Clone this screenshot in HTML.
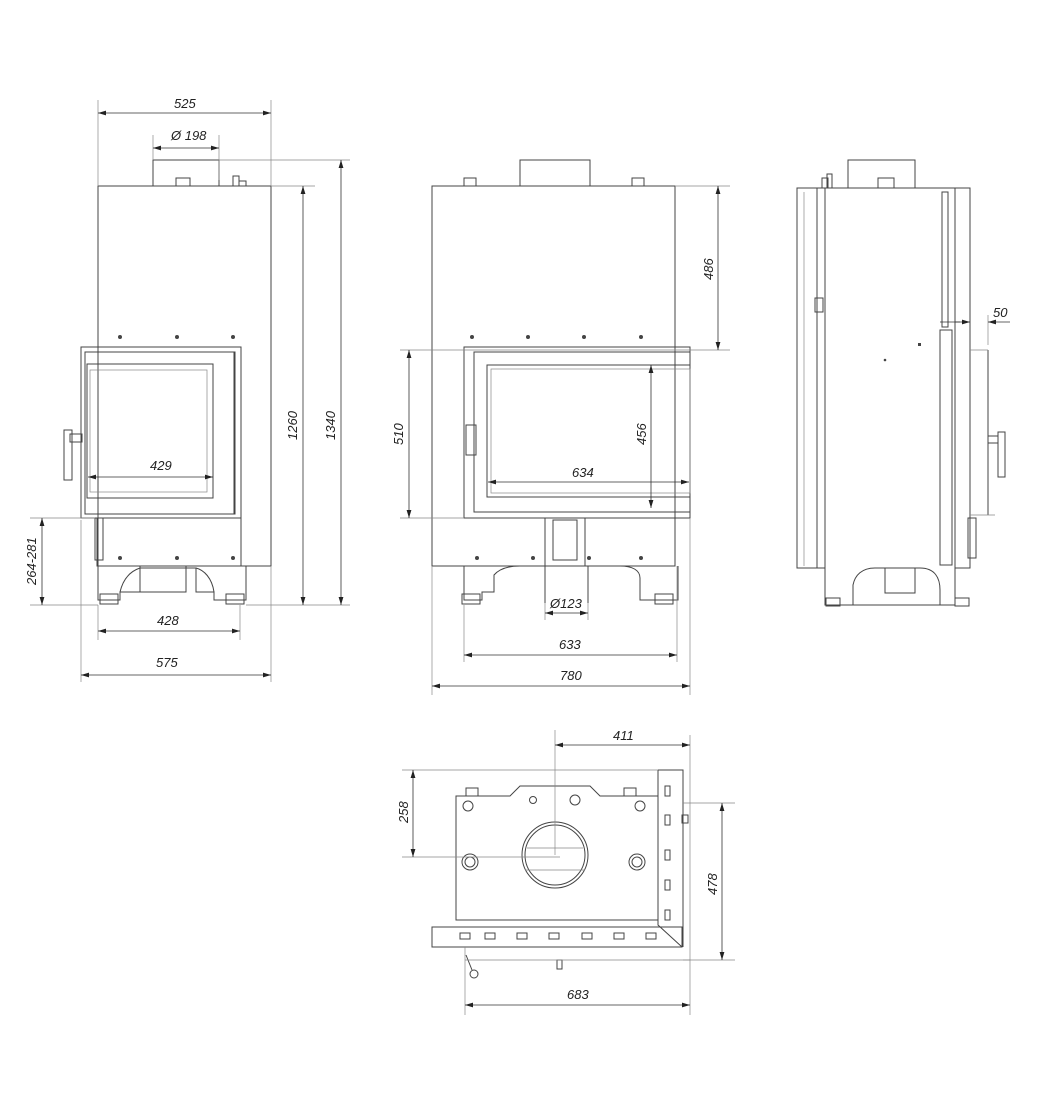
<!DOCTYPE html>
<html><head><meta charset="utf-8"><style>
html,body{margin:0;padding:0;background:#fff;}
svg{display:block;}
text{font-family:"Liberation Sans",sans-serif;font-size:13px;font-style:italic;fill:#222;}
.l{stroke:#444;stroke-width:1;fill:none;}
.t{stroke:#888;stroke-width:0.7;fill:none;}
.d{stroke:#333;stroke-width:0.8;fill:none;}
</style></head><body>
<svg width="1040" height="1120" viewBox="0 0 1040 1120" xmlns="http://www.w3.org/2000/svg">
<defs>
<marker id="a" viewBox="0 0 10 6" refX="10" refY="3" markerWidth="10" markerHeight="6" orient="auto-start-reverse"><path d="M0,0 L10,3 L0,6 z" fill="#222"/></marker>
</defs>

<!-- ============ FRONT LEFT VIEW ============ -->
<g>
<rect class="l" x="98" y="186" width="173" height="380"/>
<rect class="l" x="153" y="160" width="66" height="26"/>
<rect class="l" x="176" y="178" width="14" height="8"/>
<rect class="l" x="233" y="176" width="6" height="10"/><rect class="l" x="239" y="181" width="7" height="5"/>
<rect class="l" x="81" y="347" width="160" height="171" fill="#fff"/>
<rect class="l" x="85" y="352" width="150" height="162"/>
<rect class="l" x="87" y="364" width="126" height="134"/>
<rect class="t" x="90" y="370" width="117" height="122"/>
<line class="l" x1="234" y1="352" x2="234" y2="514"/>
<rect class="l" x="70" y="434" width="12" height="8"/>
<rect class="l" x="64" y="430" width="8" height="50"/>
<rect class="l" x="97" y="518" width="144" height="48"/>
<rect class="l" x="95" y="518" width="8" height="42"/>
<path class="l" d="M98,566 V600 H120 V592 H140 V568 H196 V592 H214 V600 H246 V566"/>
<path class="l" d="M120,592 C124,575 134,570 140,568 M196,568 C204,570 212,578 214,592"/>
<rect class="l" x="140" y="566" width="46" height="26"/>
<rect class="l" x="100" y="594" width="18" height="10"/><rect class="l" x="226" y="594" width="18" height="10"/>
<g fill="#444"><circle cx="120" cy="337" r="2"/><circle cx="177" cy="337" r="2"/><circle cx="233" cy="337" r="2"/>
<circle cx="120" cy="558" r="2"/><circle cx="177" cy="558" r="2"/><circle cx="233" cy="558" r="2"/></g>
<!-- dims -->
<line class="t" x1="98" y1="100" x2="98" y2="186"/><line class="t" x1="271" y1="100" x2="271" y2="186"/>
<line class="d" x1="98" y1="113" x2="271" y2="113" marker-start="url(#a)" marker-end="url(#a)"/>
<text x="174" y="108">525</text>
<line class="t" x1="153" y1="135" x2="153" y2="160"/><line class="t" x1="219" y1="135" x2="219" y2="180"/>
<line class="d" x1="153" y1="148" x2="219" y2="148" marker-start="url(#a)" marker-end="url(#a)"/>
<text x="171" y="140">Ø 198</text>
<line class="t" x1="271" y1="186" x2="315" y2="186"/><line class="t" x1="219" y1="160" x2="350" y2="160"/>
<line class="t" x1="246" y1="605" x2="350" y2="605"/>
<line class="d" x1="303" y1="186" x2="303" y2="605" marker-start="url(#a)" marker-end="url(#a)"/>
<text transform="translate(297,440) rotate(-90)">1260</text>
<line class="d" x1="341" y1="160" x2="341" y2="605" marker-start="url(#a)" marker-end="url(#a)"/>
<text transform="translate(335,440) rotate(-90)">1340</text>
<line class="t" x1="30" y1="518" x2="95" y2="518"/><line class="t" x1="30" y1="605" x2="98" y2="605"/>
<line class="d" x1="42" y1="518" x2="42" y2="605" marker-start="url(#a)" marker-end="url(#a)"/>
<text transform="translate(36,585) rotate(-90)">264-281</text>
<line class="d" x1="88" y1="477" x2="213" y2="477" marker-start="url(#a)" marker-end="url(#a)"/>
<text x="150" y="470">429</text>
<line class="t" x1="98" y1="605" x2="98" y2="640"/><line class="t" x1="240" y1="605" x2="240" y2="640"/>
<line class="d" x1="98" y1="631" x2="240" y2="631" marker-start="url(#a)" marker-end="url(#a)"/>
<text x="157" y="625">428</text>
<line class="t" x1="81" y1="520" x2="81" y2="682"/><line class="t" x1="271" y1="566" x2="271" y2="682"/>
<line class="d" x1="81" y1="675" x2="271" y2="675" marker-start="url(#a)" marker-end="url(#a)"/>
<text x="156" y="667">575</text>
</g>

<!-- ============ FRONT MIDDLE VIEW ============ -->
<g>
<rect class="l" x="432" y="186" width="243" height="380"/>
<rect class="l" x="520" y="160" width="70" height="26"/>
<rect class="l" x="464" y="178" width="12" height="8"/><rect class="l" x="632" y="178" width="12" height="8"/>
<rect class="l" x="464" y="347" width="226" height="171" fill="#fff"/>
<rect class="l" x="474" y="352" width="216" height="160"/>
<rect class="l" x="487" y="365" width="203" height="132"/>
<rect class="t" x="491" y="369" width="199" height="124"/>
<rect class="l" x="466" y="425" width="10" height="30"/>
<rect class="l" x="545" y="518" width="40" height="48"/>
<rect class="l" x="553" y="520" width="24" height="40"/>
<path class="l" d="M464,566 V600 H482 V592 H494 V575 C500,568 510,566 520,566 H545 M585,566 H620 C632,566 640,570 640,578 V600 H678 V566"/>
<line class="l" x1="545" y1="566" x2="545" y2="603"/><line class="l" x1="588" y1="566" x2="588" y2="603"/>
<rect class="l" x="462" y="594" width="18" height="10"/><rect class="l" x="655" y="594" width="18" height="10"/>
<g fill="#444"><circle cx="472" cy="337" r="2"/><circle cx="528" cy="337" r="2"/><circle cx="584" cy="337" r="2"/><circle cx="641" cy="337" r="2"/>
<circle cx="477" cy="558" r="2"/><circle cx="533" cy="558" r="2"/><circle cx="589" cy="558" r="2"/><circle cx="641" cy="558" r="2"/></g>
<line class="t" x1="675" y1="186" x2="730" y2="186"/><line class="t" x1="400" y1="350" x2="730" y2="350"/>
<line class="d" x1="718" y1="186" x2="718" y2="350" marker-start="url(#a)" marker-end="url(#a)"/>
<text transform="translate(713,280) rotate(-90)">486</text>
<line class="t" x1="400" y1="518" x2="464" y2="518"/>
<line class="d" x1="409" y1="350" x2="409" y2="518" marker-start="url(#a)" marker-end="url(#a)"/>
<text transform="translate(403,445) rotate(-90)">510</text>
<line class="d" x1="651" y1="365" x2="651" y2="508" marker-start="url(#a)" marker-end="url(#a)"/>
<text transform="translate(646,445) rotate(-90)">456</text>
<line class="d" x1="488" y1="482" x2="689" y2="482" marker-start="url(#a)" marker-end="url(#a)"/>
<text x="572" y="477">634</text>
<line class="t" x1="545" y1="603" x2="545" y2="620"/><line class="t" x1="588" y1="603" x2="588" y2="620"/>
<line class="d" x1="545" y1="613" x2="588" y2="613" marker-start="url(#a)" marker-end="url(#a)"/>
<text x="550" y="608">Ø123</text>
<line class="t" x1="464" y1="605" x2="464" y2="662"/><line class="t" x1="677" y1="566" x2="677" y2="662"/>
<line class="d" x1="464" y1="655" x2="677" y2="655" marker-start="url(#a)" marker-end="url(#a)"/>
<text x="559" y="649">633</text>
<line class="t" x1="432" y1="566" x2="432" y2="695"/><line class="t" x1="690" y1="518" x2="690" y2="695"/>
<line class="d" x1="432" y1="686" x2="690" y2="686" marker-start="url(#a)" marker-end="url(#a)"/>
<text x="560" y="680">780</text>
</g>

<!-- ============ SIDE VIEW ============ -->
<g>
<rect class="l" x="848" y="160" width="67" height="28"/>
<rect class="l" x="878" y="178" width="16" height="10"/>
<rect class="l" x="822" y="178" width="6" height="10"/><rect class="l" x="827" y="174" width="5" height="14"/>
<rect class="l" x="797" y="188" width="20" height="380"/>
<line class="t" x1="804" y1="192" x2="804" y2="566"/>
<rect class="l" x="817" y="188" width="8" height="380"/>
<rect class="l" x="815" y="298" width="8" height="14"/>
<rect class="l" x="825" y="188" width="130" height="417"/>
<path class="l" d="M825,567 V605 H853 V585 C855,575 862,568 875,568 H920 C935,568 940,578 940,590 V605"/>
<rect class="l" x="885" y="568" width="30" height="25"/>
<rect class="l" x="942" y="192" width="6" height="135"/>
<rect class="l" x="940" y="330" width="12" height="235"/>
<rect class="l" x="955" y="188" width="15" height="380"/>
<line class="l" x1="970" y1="345" x2="970" y2="545"/><line class="l" x1="988" y1="350" x2="988" y2="515"/>
<line class="t" x1="970" y1="350" x2="988" y2="350"/><line class="t" x1="970" y1="515" x2="995" y2="515"/>
<rect class="l" x="968" y="518" width="8" height="40"/>
<rect class="l" x="988" y="436" width="10" height="7"/><rect class="l" x="998" y="432" width="7" height="45"/>
<rect class="l" x="826" y="598" width="14" height="8"/><rect class="l" x="955" y="598" width="14" height="8"/>
<circle cx="885" cy="360" r="1.3" fill="#444"/><rect x="918" y="343" width="3" height="3" fill="#444"/>
<line class="t" x1="988" y1="315" x2="988" y2="345"/>
<line class="d" x1="960" y1="322" x2="955" y2="322"/>
<line class="d" x1="1010" y1="322" x2="988" y2="322" marker-end="url(#a)"/>
<line class="d" x1="940" y1="322" x2="970" y2="322" marker-end="url(#a)"/>
<text x="993" y="317">50</text>
</g>

<!-- ============ TOP VIEW ============ -->
<g>
<path class="l" d="M456,796 H510 L520,786 H590 L600,796 H658 V920 H456 Z"/>
<rect class="l" x="466" y="788" width="12" height="8"/><rect class="l" x="624" y="788" width="12" height="8"/>
<circle class="l" cx="468" cy="806" r="5"/><circle class="l" cx="533" cy="800" r="3.5"/><circle class="l" cx="575" cy="800" r="5"/><circle class="l" cx="640" cy="806" r="5"/>
<circle class="l" cx="470" cy="862" r="8"/><circle class="l" cx="470" cy="862" r="5"/>
<circle class="l" cx="637" cy="862" r="8"/><circle class="l" cx="637" cy="862" r="5"/>
<circle class="l" cx="555" cy="855" r="33"/><circle class="l" cx="555" cy="855" r="30"/>
<line class="t" x1="527" y1="848" x2="583" y2="848"/><line class="t" x1="525" y1="870" x2="585" y2="870"/>
<rect class="l" x="432" y="927" width="250" height="20"/>
<path class="l" d="M658,770 H683 V947 M658,770 V925 L682,947"/>
<g class="l"><rect x="460" y="933" width="10" height="6"/><rect x="485" y="933" width="10" height="6"/><rect x="517" y="933" width="10" height="6"/><rect x="549" y="933" width="10" height="6"/><rect x="582" y="933" width="10" height="6"/><rect x="614" y="933" width="10" height="6"/><rect x="646" y="933" width="10" height="6"/>
<rect x="665" y="786" width="5" height="10"/><rect x="665" y="815" width="5" height="10"/><rect x="665" y="850" width="5" height="10"/><rect x="665" y="880" width="5" height="10"/><rect x="665" y="910" width="5" height="10"/></g>
<rect class="l" x="682" y="815" width="6" height="8"/>
<line class="l" x1="466" y1="955" x2="472" y2="970"/><circle class="l" cx="474" cy="974" r="4"/>
<rect class="l" x="557" y="960" width="5" height="9"/>
<!-- dims -->
<line class="t" x1="555" y1="730" x2="555" y2="855"/><line class="t" x1="690" y1="735" x2="690" y2="1015"/>
<line class="d" x1="555" y1="745" x2="690" y2="745" marker-start="url(#a)" marker-end="url(#a)"/>
<text x="613" y="740">411</text>
<line class="t" x1="402" y1="770" x2="658" y2="770"/><line class="t" x1="402" y1="857" x2="560" y2="857"/>
<line class="d" x1="413" y1="770" x2="413" y2="857" marker-start="url(#a)" marker-end="url(#a)"/>
<text transform="translate(408,823) rotate(-90)">258</text>
<line class="t" x1="683" y1="803" x2="735" y2="803"/><line class="t" x1="683" y1="960" x2="735" y2="960"/>
<line class="d" x1="722" y1="803" x2="722" y2="960" marker-start="url(#a)" marker-end="url(#a)"/>
<text transform="translate(717,895) rotate(-90)">478</text>
<line class="t" x1="465" y1="947" x2="465" y2="1015"/>
<line class="t" x1="465" y1="960" x2="690" y2="960"/>
<line class="d" x1="465" y1="1005" x2="690" y2="1005" marker-start="url(#a)" marker-end="url(#a)"/>
<text x="567" y="999">683</text>
</g>
</svg>
</body></html>
